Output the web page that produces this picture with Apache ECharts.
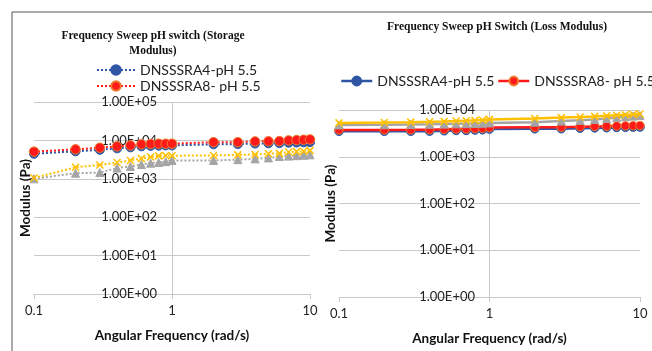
<!DOCTYPE html>
<html><head><meta charset="utf-8">
<script src="https://cdn.jsdelivr.net/npm/echarts@6/dist/echarts.min.js"></script>
<style>html,body{margin:0;padding:0;background:#fff}#c{width:652px;height:351px}</style>
</head><body><div id="c"></div><script>
// ---- data ----
const freq = [0.1,0.2,0.3,0.4,0.5,0.6,0.7,0.8,0.9,1,2,3,4,5,6,7,8,9,10];
const storageA4 = [4500,5200,5700,6200,6600,7000,7200,7300,7400,7400,7900,8000,8300,8400,8500,8700,8800,8900,9000];
const storageA8 = [5100,5850,6450,7000,7400,7900,8100,8200,8200,8200,9000,9000,9400,9500,9600,10000,10200,10400,10600];
const storageGray = [1000,1400,1450,1900,2100,2350,2550,2650,2800,3000,3000,3150,3300,3500,3800,3900,4000,4100,4200];
const storageGold = [1050,2000,2300,2650,3000,3350,3700,3950,4050,4000,4050,4200,4300,4500,4600,5000,5100,5200,5500];
const lossA4 = [3500,3500,3500,3530,3590,3650,3660,3720,3780,3900,3950,3980,4090,4140,4170,4230,4260,4300,4320];
const lossA8 = [3750,3750,3760,3800,3860,3920,3940,4000,4060,4200,4250,4280,4400,4450,4480,4550,4580,4620,4650];
const lossGray = [4800,4850,4900,4950,5000,5050,5100,5150,5200,5300,5500,5800,6000,6300,6600,6900,7200,7400,7600];
const lossGold = [5300,5400,5500,5600,5700,5800,5900,6000,6100,6300,6600,6900,7100,7300,7500,7700,7900,8000,8200];
const xTickLabels = ['0.1','1','10'];
const yTickLabels = ['1.00E+00','1.00E+01','1.00E+02','1.00E+03','1.00E+04','1.00E+05'];
const nameA4 = 'DNSSSRA4-pH 5.5';
const nameA8 = 'DNSSSRA8- pH 5.5';
const leftTitle = ['Frequency Sweep pH switch (Storage','Modulus)'];
const rightTitle = 'Frequency Sweep pH Switch (Loss Modulus)';
const xName = 'Angular Frequency (rad/s)';
const yName = 'Modulus (Pa)';

// ---- styles ----
const BLUE = '#2F55A4', RED = '#FF1A1A', ORANGE = '#ED7D31', GRAY = '#A5A5A5', GOLD = '#FFC000';
const GRID = '#C9C9C9';
const FONT = 'Lato, "Liberation Sans", sans-serif';
const XPATH = 'path://M0,0L10,10M10,0L0,10';

function pairs(vals){ return freq.map((f,i)=>[f, vals[i]]); }

function xAxis(gi){
  return {
    type:'log', logBase:10, min:0.1, max:10, gridIndex:gi,
    axisLine:{show:true, lineStyle:{color:GRID, width:1}},
    axisTick:{show:true, length:5, lineStyle:{color:GRID}},
    splitLine:{show:true, lineStyle:{color:['rgba(0,0,0,0)', GRID, 'rgba(0,0,0,0)'], width:1}},
    axisLabel:{fontFamily:FONT, fontSize:13, color:'#222', margin:10,
      formatter:v=>xTickLabels[Math.round(Math.log10(v))+1]},
    name:xName, nameLocation:'middle', nameGap:35,
    nameTextStyle:{fontFamily:FONT, fontSize:13.5, fontWeight:'bold', color:'#111'}
  };
}
function yAxis(gi, max, margin){
  return {
    type:'log', logBase:10, min:1, max:max, gridIndex:gi,
    axisLine:{show:false}, axisTick:{show:false},
    splitLine:{show:true, lineStyle:{color:GRID, width:1}},
    axisLabel:{inside:true, align:'right', margin:margin, fontFamily:FONT, fontSize:13, color:'#222',
      formatter:v=>yTickLabels[Math.round(Math.log10(v))]},
    name:yName, nameLocation:'middle', nameGap:-1, nameRotate:90,
    nameTextStyle:{fontFamily:FONT, fontSize:13.5, fontWeight:'bold', color:'#111', verticalAlign:'bottom'}
  };
}
function ser(name, vals, gi, color, border, symbol, size, lineType, lw, z){
  return {
    type:'line', name:name, xAxisIndex:gi, yAxisIndex:gi, data:pairs(vals),
    symbol:symbol, symbolSize:size, showSymbol:true,
    lineStyle:{color:color, type:lineType, width:lw},
    itemStyle:{color:color, borderColor:border, borderWidth:symbol===XPATH?1.5:1, opacity:1},
    z:z, animation:false
  };
}
function rightLegend(name, left){
  return {data:[name], orient:'horizontal', left:left, top:74, padding:0, itemWidth:31, itemHeight:11,
    lineStyle:{type:'solid', width:2.5},
    textStyle:{fontFamily:FONT, fontSize:14, color:'#222'}, selectedMode:false};
}

const chart = echarts.init(document.getElementById('c'), null, {renderer:'canvas'});
chart.setOption({
  backgroundColor:'#fff',
  animation:false,
  grid:[
    {left:34, top:102, width:276, height:192},
    {left:339, top:110, width:301, height:187}
  ],
  xAxis:[xAxis(0), xAxis(1)],
  yAxis:[yAxis(0, 100000, 123), yAxis(1, 10000, 136)],
  legend:[
    {data:[nameA4, nameA8], orient:'vertical', left:96, top:63, padding:0, itemWidth:38, itemHeight:12, itemGap:2,
     lineStyle:{type:'dotted', width:2},
     textStyle:{fontFamily:FONT, fontSize:14, color:'#222'}, selectedMode:false},
    rightLegend(nameA4, 340),
    rightLegend(nameA8, 497)
  ],
  series:[
    ser(nameA4, storageA4, 0, BLUE, BLUE, 'circle', 9, 'dotted', 2, 2),
    ser(nameA8, storageA8, 0, RED, ORANGE, 'circle', 9.5, 'dotted', 2, 3),
    ser('Storage series 3', storageGray, 0, GRAY, GRAY, 'triangle', 8, 'dotted', 2, 2),
    ser('Storage series 4', storageGold, 0, GOLD, GOLD, XPATH, 7, 'dotted', 2, 2),
    ser(nameA4, lossA4, 1, BLUE, BLUE, 'circle', 8.5, 'solid', 2.5, 2),
    ser(nameA8, lossA8, 1, RED, ORANGE, 'circle', 8.5, 'solid', 2.5, 3),
    ser('Loss series 3', lossGray, 1, GRAY, GRAY, 'triangle', 8, 'solid', 2.5, 4),
    ser('Loss series 4', lossGold, 1, GOLD, GOLD, XPATH, 7, 'solid', 2.5, 5)
  ],
  graphic:[
    {type:'line', shape:{x1:12, y1:12, x2:652, y2:12}, style:{stroke:'#555', lineWidth:1}},
    {type:'line', shape:{x1:12, y1:12, x2:12, y2:351}, style:{stroke:'#555', lineWidth:1}},
    {type:'text', x:153, y:36, style:{text:leftTitle[0], textAlign:'center', textVerticalAlign:'middle',
      font:'bold 11.5px "Liberation Serif", serif', fill:'#111'}},
    {type:'text', x:153, y:51, style:{text:leftTitle[1], textAlign:'center', textVerticalAlign:'middle',
      font:'bold 11.5px "Liberation Serif", serif', fill:'#111'}},
    {type:'text', x:497, y:27, style:{text:rightTitle, textAlign:'center', textVerticalAlign:'middle',
      font:'bold 11.5px "Liberation Serif", serif', fill:'#111'}}
  ]
});
</script></body></html>
